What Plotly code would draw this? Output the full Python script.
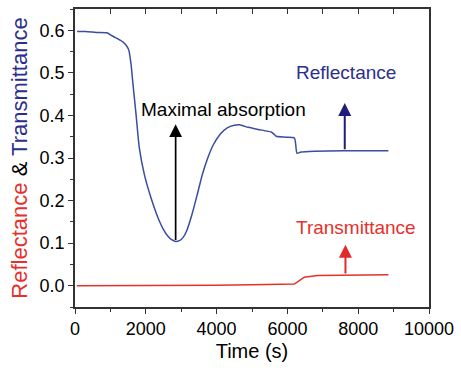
import plotly.graph_objects as go

# Reflectance curve
time_R = [60, 300, 600, 900, 1070, 1350, 1445, 1518, 1585, 1630, 1725, 1817, 1957, 2144,
          2376, 2500, 2609, 2730, 2843, 2950, 3050, 3150, 3300, 3450, 3600, 3750, 3900,
          4100, 4300, 4500, 4650, 4892, 5172, 5544, 5620, 5684, 5963, 6198, 6272, 6384,
          6757, 7596, 8854]
refl = [0.597, 0.597, 0.595, 0.594, 0.586, 0.573, 0.565, 0.554, 0.519, 0.480, 0.402,
        0.324, 0.262, 0.207, 0.153, 0.132, 0.118, 0.108, 0.104, 0.106, 0.113, 0.128,
        0.166, 0.213, 0.262, 0.300, 0.330, 0.356, 0.371, 0.377, 0.378, 0.372, 0.367,
        0.361, 0.356, 0.351, 0.349, 0.347, 0.311, 0.314, 0.316, 0.317, 0.317]

# Transmittance curve
time_T = [50, 1000, 2000, 3000, 4000, 5000, 6000, 6198, 6338, 6478, 6850, 7600, 8854]
trans = [0.0, 0.0, 0.0, 0.0, 0.001, 0.002, 0.003, 0.004, 0.012, 0.020, 0.024, 0.025, 0.026]

x_ticks = [0, 2000, 4000, 6000, 8000, 10000]
y_ticks = [0.0, 0.1, 0.2, 0.3, 0.4, 0.5, 0.6]

BLUE = "#3a4ca3"
NAVY = "#2b2e8c"
RED = "#e6302b"
FONT = "Liberation Sans, Arial, sans-serif"

fig = go.Figure()
fig.add_trace(go.Scatter(x=time_R, y=refl, mode="lines",
                         line=dict(color=BLUE, width=1.5, shape="spline", smoothing=0.6),
                         showlegend=False))
fig.add_trace(go.Scatter(x=time_T, y=trans, mode="lines",
                         line=dict(color=RED, width=1.5), showlegend=False))
# helper trace for the top axis
fig.add_trace(go.Scatter(x=[0], y=[0], xaxis="x2", mode="markers",
                         marker=dict(opacity=0), hoverinfo="skip", showlegend=False))

axis_col = "#333333"
fig.update_layout(
    width=461, height=368,
    margin=dict(l=75, r=28, t=7, b=61),
    paper_bgcolor="white", plot_bgcolor="white",
    font=dict(family=FONT, size=18, color="black"),
    xaxis=dict(range=[0, 10000], tickvals=x_ticks, ticktext=[str(v) for v in x_ticks],
               ticks="outside", ticklen=5, tickwidth=1.3, tickcolor=axis_col,
               showline=True, linecolor=axis_col, linewidth=1.5, mirror=True,
               showgrid=False, zeroline=False,
               minor=dict(ticks="outside", ticklen=3, tickcolor=axis_col, dtick=1000, tick0=0),
               title=dict(text="Time (s)", font=dict(size=20), standoff=6)),
    xaxis2=dict(range=[0, 10000], overlaying="x", side="top", ticks="inside",
                dtick=1000, tick0=0, ticklen=5, tickwidth=1.3, tickcolor=axis_col,
                showticklabels=False, showline=False, showgrid=False, zeroline=False),
    yaxis=dict(range=[-0.05, 0.65], tickvals=y_ticks, ticktext=[f"{v:.1f}" for v in y_ticks],
               ticks="outside", ticklen=5, tickwidth=1.3, tickcolor=axis_col,
               showline=True, linecolor=axis_col, linewidth=1.5, mirror=True,
               showgrid=False, zeroline=False,
               minor=dict(ticks="outside", ticklen=3, tickcolor=axis_col, dtick=0.05, tick0=0),
               title=dict(text='<span style="color:#e6302b">Reflectance</span> &amp; '
                               '<span style="color:#2b2e8c">Transmittance</span>',
                          font=dict(size=22), standoff=6)),
)

# arrows
fig.add_annotation(x=2843, y=0.379, ax=2843, ay=0.104, xref="x", yref="y",
                   axref="x", ayref="y", text="", showarrow=True, arrowhead=2,
                   arrowsize=1.5, arrowwidth=1.7, arrowcolor="black")
fig.add_annotation(x=7620, y=0.429, ax=7620, ay=0.317, xref="x", yref="y",
                   axref="x", ayref="y", text="", showarrow=True, arrowhead=2,
                   arrowsize=1.3, arrowwidth=2, arrowcolor="#1f1c7a")
fig.add_annotation(x=7640, y=0.096, ax=7640, ay=0.025, xref="x", yref="y",
                   axref="x", ayref="y", text="", showarrow=True, arrowhead=2,
                   arrowsize=1.3, arrowwidth=2, arrowcolor="#e3292b")

# labels
fig.add_annotation(x=4207, y=0.414, text="Maximal absorption", showarrow=False,
                   font=dict(size=19, color="black"))
fig.add_annotation(x=7655, y=0.501, text="Reflectance", showarrow=False,
                   font=dict(size=19, color=NAVY))
fig.add_annotation(x=7925, y=0.137, text="Transmittance", showarrow=False,
                   font=dict(size=19, color=RED))

fig.write_html("out.html")
